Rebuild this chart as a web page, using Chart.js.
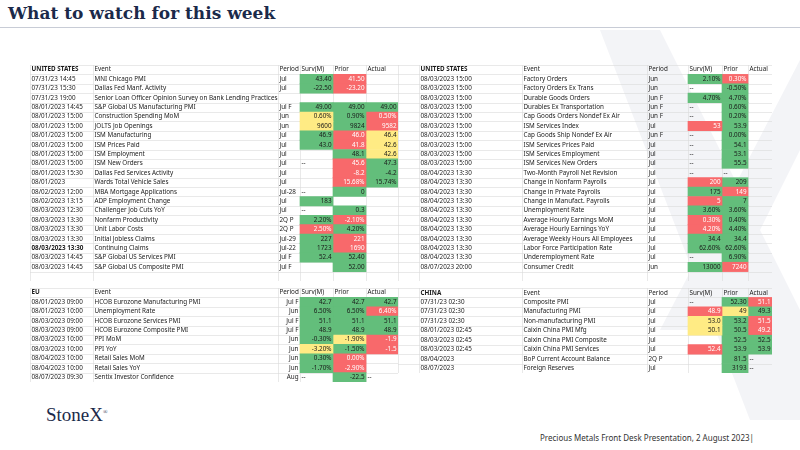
<!DOCTYPE html>
<html>
<head>
<meta charset="utf-8">
<script src="https://cdn.jsdelivr.net/npm/chart.js@4.4.0/dist/chart.umd.min.js"></script>
<style>
  body { margin: 0; width: 800px; height: 450px; background: #fff; position: relative; overflow: hidden; font-family: "Noto Sans", sans-serif; }
  .title { position: absolute; left: 8px; top: 3px; font: bold 17px "DejaVu Serif", "Liberation Serif", serif; color: #1b2a4a; }
  .rule { position: absolute; left: 0; top: 27px; width: 800px; height: 1px; background: #c8ccd6; }
  .logo { position: absolute; left: 46px; top: 404px; font: 19px "Liberation Serif", serif; color: #1b2a4a; }
  .foot { position: absolute; left: 540px; top: 432px; font: 8px "Noto Sans", sans-serif; color: #333; }
  .box { position: absolute; }
</style>
</head>
<body>
<svg style="position:absolute;left:0;top:0" width="800" height="450">
  <polygon points="600,30 660,30 800,310 800,420 750,420" fill="#f3f4f7"/>
  <polygon points="800,60 800,150 710,330 660,330" fill="#f3f4f7"/>
</svg>
<div class="title">What to watch for this week</div>
<div class="rule"></div>
<div class="box" style="left:30px;top:65px;width:368px;height:216px"><canvas id="us1"></canvas></div>
<div class="box" style="left:398px;top:65px;width:374px;height:216px"><canvas id="us2"></canvas></div>
<div class="box" style="left:30px;top:288px;width:368px;height:94px"><canvas id="eu"></canvas></div>
<div class="box" style="left:398px;top:288px;width:374px;height:85px"><canvas id="cn"></canvas></div>
<div class="logo">StoneX<sup style="font-size:6px">®</sup></div>
<div class="foot">Precious Metals Front Desk Presentation, 2 August 2023|</div>
<script>
// ---- United States (left) ----
const us1Dates = ['07/31/23 14:45','07/31/23 15:30','07/31/23 19:00','08/01/2023 14:45','08/01/2023 15:00','08/01/2023 15:00','08/01/2023 15:00','08/01/2023 15:00','08/01/2023 15:00','08/01/2023 15:00','08/01/2023 15:30','08/01/2023','08/02/2023 12:00','08/02/2023 13:15','08/03/2023 12:30','08/03/2023 13:30','08/03/2023 13:30','08/03/2023 13:30','08/03/2023 13:30','08/03/2023 14:45','08/03/2023 14:45',''];
const us1Events = ['MNI Chicago PMI','Dallas Fed Manf. Activity','Senior Loan Officer Opinion Survey on Bank Lending Practices','S&P Global US Manufacturing PMI','Construction Spending MoM','JOLTS Job Openings','ISM Manufacturing','ISM Prices Paid','ISM Employment','ISM New Orders','Dallas Fed Services Activity','Wards Total Vehicle Sales','MBA Mortgage Applications','ADP Employment Change','Challenger Job Cuts YoY','Nonfarm Productivity','Unit Labor Costs','Initial Jobless Claims','Continuing Claims','S&P Global US Services PMI','S&P Global US Composite PMI',''];
const us1Period = ['Jul','Jul','','Jul F','Jun','Jun','Jul','Jul','Jul','Jul','Jul','Jul','Jul-28','Jul','Jul','2Q P','2Q P','Jul-29','Jul-22','Jul F','Jul F',''];
const us1Surv = ['43.40','-22.50','','49.00','0.60%','9600','46.9','43.0','','--','','','--','183','--','2.20%','2.50%','227','1723','52.4','',''];
const us1Prior = ['41.50','-23.20','','49.00','0.90%','9824','46.0','41.8','48.1','45.6','-8.2','15.68%','0','','0.3','-2.10%','4.20%','221','1690','52.40','52.00',''];
const us1Actual = ['','','','49.00','0.50%','9582','46.4','42.6','42.6','47.3','-4.2','15.74%','','','','','','','','','',''];
const us1SurvSig = ['g','g','','g','y','y','g','g','','','','','','g','','g','r','g','g','g','',''];
const us1PriorSig = ['r','r','','g','g','g','r','r','g','r','r','r','g','','g','r','g','r','r','g','g',''];
const us1ActualSig = ['','','','g','r','r','y','y','y','g','g','g','','','','','','','','','',''];

// ---- United States (right) ----
const us2Dates = ['08/03/2023 15:00','08/03/2023 15:00','08/03/2023 15:00','08/03/2023 15:00','08/03/2023 15:00','08/03/2023 15:00','08/03/2023 15:00','08/03/2023 15:00','08/03/2023 15:00','08/03/2023 15:00','08/04/2023 13:30','08/04/2023 13:30','08/04/2023 13:30','08/04/2023 13:30','08/04/2023 13:30','08/04/2023 13:30','08/04/2023 13:30','08/04/2023 13:30','08/04/2023 13:30','08/04/2023 13:30','08/07/2023 20:00',''];
const us2Events = ['Factory Orders','Factory Orders Ex Trans','Durable Goods Orders','Durables Ex Transportation','Cap Goods Orders Nondef Ex Air','ISM Services Index','Cap Goods Ship Nondef Ex Air','ISM Services Prices Paid','ISM Services Employment','ISM Services New Orders','Two-Month Payroll Net Revision','Change in Nonfarm Payrolls','Change in Private Payrolls','Change in Manufact. Payrolls','Unemployment Rate','Average Hourly Earnings MoM','Average Hourly Earnings YoY','Average Weekly Hours All Employees','Labor Force Participation Rate','Underemployment Rate','Consumer Credit',''];
const us2Period = ['Jun','Jun','Jun F','Jun F','Jun F','Jul','Jun F','Jul','Jul','Jul','Jul','Jul','Jul','Jul','Jul','Jul','Jul','Jul','Jul','Jul','Jun',''];
const us2Surv = ['2.10%','--','4.70%','--','--','53','--','--','--','--','--','200','175','5','3.60%','0.30%','4.20%','34.4','62.60%','--','13000',''];
const us2Prior = ['0.30%','-0.50%','4.70%','0.60%','0.20%','53.9','0.00%','54.1','53.1','55.5','--','209','149','7','3.60%','0.40%','4.40%','34.4','62.60%','6.90%','7240',''];
const us2Actual = ['','','','','','','','','','','','','','','','','','','','','',''];
const us2SurvSig = ['g','','g','','','r','','','','','','r','g','r','g','r','r','g','g','','g',''];
const us2PriorSig = ['r','g','g','g','g','g','g','g','g','g','','g','r','g','g','g','g','g','g','g','r',''];
const us2ActualSig = us2Actual.map(() => '');

// ---- EU ----
const euDates = ['08/01/2023 09:00','08/01/2023 10:00','08/03/2023 09:00','08/03/2023 09:00','08/03/2023 10:00','08/03/2023 10:00','08/04/2023 10:00','08/04/2023 10:00','08/07/2023 09:30'];
const euEvents = ['HCOB Eurozone Manufacturing PMI','Unemployment Rate','HCOB Eurozone Services PMI','HCOB Eurozone Composite PMI','PPI MoM','PPI YoY','Retail Sales MoM','Retail Sales YoY','Sentix Investor Confidence'];
const euPeriod = ['Jul F','Jun','Jul F','Jul F','Jun','Jun','Jun','Jun','Aug'];
const euSurv = ['42.7','6.50%','51.1','48.9','-0.30%','-3.20%','0.30%','-1.70%','--'];
const euPrior = ['42.7','6.50%','51.1','48.9','-1.90%','-1.50%','0.00%','-2.90%','-22.5'];
const euActual = ['42.7','6.40%','51.1','48.9','-1.9','-1.5','','','--'];
const euSurvSig = ['g','g','g','g','g','y','g','g',''];
const euPriorSig = ['g','g','g','g','y','g','r','r','g'];
const euActualSig = ['g','r','g','g','r','r','','',''];

// ---- China ----
const cnDates = ['07/31/23 02:30','07/31/23 02:30','07/31/23 02:30','08/01/2023 02:45','08/03/2023 02:45','08/03/2023 02:45','08/04/2023','08/07/2023'];
const cnEvents = ['Composite PMI','Manufacturing PMI','Non-manufacturing PMI','Caixin China PMI Mfg','Caixin China PMI Composite','Caixin China PMI Services','BoP Current Account Balance','Foreign Reserves'];
const cnPeriod = ['Jul','Jul','Jul','Jul','Jul','Jul','2Q P','Jul'];
const cnSurv = ['--','48.9','53.0','50.1','','52.4','',''];
const cnPrior = ['52.30','49','53.2','50.5','52.5','53.9','81.5','3193'];
const cnActual = ['51.1','49.3','51.5','49.2','52.5','53.9','--','--'];
const cnSurvSig = ['','r','y','y','','r','',''];
const cnPriorSig = ['g','y','g','g','g','g','g','g'];
const cnActualSig = ['r','g','r','r','g','g','',''];

const FILL = { g: '#63be7b', r: '#f8696b', y: '#ffeb84', '': 'rgba(0,0,0,0)' };
const INK = { g: '#1a1a1a', r: '#ffffff', y: '#1a1a1a', '': '#1a1a1a' };

function makeTable(id, o) {
  const n = o.dates.length + 1;
  const labels = Array.from({ length: n }, (_, i) => 'r' + i);
  const edges = o.edges;
  const vc = o.valueCol;
  const valCols = [
    { vals: o.surv, sig: o.survSig },
    { vals: o.prior, sig: o.priorSig },
    { vals: o.actual, sig: o.actualSig }
  ];
  const datasets = valCols.map((c, k) => ({
    data: labels.map(() => [edges[vc + k], edges[vc + k + 1]]),
    backgroundColor: ['rgba(0,0,0,0)'].concat(c.sig.map(s => FILL[s])),
    grouped: false,
    categoryPercentage: 1,
    barPercentage: 1,
    borderWidth: 0
  }));
  const textRows = [[o.header, 'Event', 'Period', 'Surv(M)', 'Prior', 'Actual']].concat(
    o.dates.map((d, i) => [d, o.events[i], o.period[i], o.surv[i], o.prior[i], o.actual[i]]));
  const tablePlugin = {
    id: 'table',
    beforeDatasetsDraw(chart) {
      const { ctx, chartArea: a, scales: { x, y } } = chart;
      ctx.save();
      ctx.strokeStyle = '#dadada';
      ctx.lineWidth = 0.6;
      const h = (y.getPixelForValue(1) - y.getPixelForValue(0));
      for (let i = 0; i <= n; i++) {
        const py = Math.round(y.getPixelForValue(0) - h / 2 + i * h) + 0.5;
        ctx.beginPath(); ctx.moveTo(a.left, py); ctx.lineTo(a.right, py); ctx.stroke();
      }
      edges.forEach(e => {
        const px = Math.round(x.getPixelForValue(e)) + 0.5;
        ctx.beginPath(); ctx.moveTo(px, a.top); ctx.lineTo(px, a.bottom); ctx.stroke();
      });
      ctx.restore();
    },
    afterDatasetsDraw(chart) {
      const { ctx, scales: { x, y } } = chart;
      ctx.save();
      ctx.textBaseline = 'middle';
      textRows.forEach((row, i) => {
        const py = y.getPixelForValue(i);
        row.forEach((t, j) => {
          if (!t) return;
          const col = o.first + j;
          const bold = (i === 0 && j === 0) || (o.boldRow === i && j === 0);
          ctx.font = (bold ? 'bold ' : '') + '6.3px "Noto Sans", sans-serif';
          let sig = '';
          if (i > 0 && j >= 3) sig = valCols[j - 3].sig[i - 1];
          ctx.fillStyle = INK[sig];
          const right = i > 0 && t !== '--' && (j >= 3 || (j === 2 && o.periodRight));
          if (right) {
            ctx.textAlign = 'right';
            ctx.fillText(t, x.getPixelForValue(edges[col + 1]) - 1.5, py);
          } else {
            ctx.textAlign = 'left';
            ctx.fillText(t, x.getPixelForValue(edges[col]) + 1.5, py);
          }
        });
      });
      ctx.restore();
    }
  };
  new Chart(document.getElementById(id), {
    type: 'bar',
    data: { labels, datasets },
    options: {
      indexAxis: 'y',
      responsive: true,
      maintainAspectRatio: false,
      animation: false,
      layout: { padding: 0 },
      plugins: { legend: { display: false }, tooltip: { enabled: false } },
      scales: {
        x: { type: 'linear', display: false, min: 0, max: edges[edges.length - 1] },
        y: { type: 'category', display: false, offset: true }
      }
    },
    plugins: [tablePlugin]
  });
}

makeTable('us1', {
  header: 'UNITED STATES', first: 0, valueCol: 3, boldRow: 19,
  edges: [0, 63, 248, 270, 303, 336, 368],
  dates: us1Dates, events: us1Events, period: us1Period,
  surv: us1Surv, prior: us1Prior, actual: us1Actual,
  survSig: us1SurvSig, priorSig: us1PriorSig, actualSig: us1ActualSig
});
makeTable('us2', {
  header: 'UNITED STATES', first: 1, valueCol: 4,
  edges: [0, 21, 124, 249, 290, 324, 350, 374],
  dates: us2Dates, events: us2Events, period: us2Period,
  surv: us2Surv, prior: us2Prior, actual: us2Actual,
  survSig: us2SurvSig, priorSig: us2PriorSig, actualSig: us2ActualSig
});
makeTable('eu', {
  header: 'EU', first: 0, valueCol: 3, periodRight: true,
  edges: [0, 63, 248, 270, 303, 336, 368],
  dates: euDates, events: euEvents, period: euPeriod,
  surv: euSurv, prior: euPrior, actual: euActual,
  survSig: euSurvSig, priorSig: euPriorSig, actualSig: euActualSig
});
makeTable('cn', {
  header: 'CHINA', first: 1, valueCol: 4,
  edges: [0, 21, 124, 249, 290, 324, 350, 374],
  dates: cnDates, events: cnEvents, period: cnPeriod,
  surv: cnSurv, prior: cnPrior, actual: cnActual,
  survSig: cnSurvSig, priorSig: cnPriorSig, actualSig: cnActualSig
});
</script>
</body>
</html>
